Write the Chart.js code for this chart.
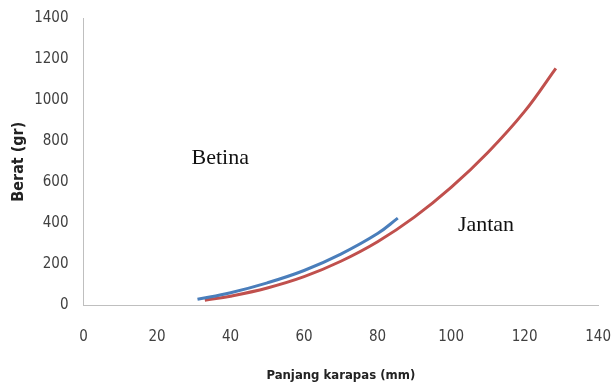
<!doctype html>
<html>
<head>
<meta charset="UTF-8"/>
<title>Berat vs Panjang karapas</title>
<script src="https://cdn.jsdelivr.net/npm/chart.js@4/dist/chart.umd.min.js"></script>
</head>
<body style="margin: 0; background: #fff;">
<div style="width: 613px; height: 390px;">
<canvas id="myChart" width="613" height="390"></canvas>
</div>
<script>
// values
var betinaLength = [31, 40, 50, 60, 70, 80, 85.5];
var betinaWeight = [30, 62, 110, 170, 250, 350, 425];
var jantanLength = [33, 40, 50, 60, 70, 80, 90, 100, 110, 120, 128.5];
var jantanWeight = [25, 45, 85, 140, 215, 310, 430, 575, 745, 945, 1155];

// text labels placed in data units
var notes = [
    {text: 'Betina', x: 37.2, y: 715},
    {text: 'Jantan', x: 109.5, y: 392}
];

var tickFont = "'DejaVu Sans Condensed', 'Liberation Sans Narrow', sans-serif";

function toPoints(xs, ys) {
    return xs.map((x, i) => ({x: x, y: ys[i]}));
}

var notePlugin = {
    id: 'notes',
    afterDatasetsDraw(chart) {
        var ctx = chart.ctx;
        ctx.save();
        ctx.font = "22px 'Liberation Serif', 'Times New Roman', serif";
        ctx.fillStyle = '#111';
        ctx.textAlign = 'center';
        ctx.textBaseline = 'middle';
        notes.forEach((n) => {
            ctx.fillText(n.text, chart.scales.x.getPixelForValue(n.x), chart.scales.y.getPixelForValue(n.y));
        });
        ctx.restore();
    }
};

var ctx = document.getElementById('myChart').getContext('2d');
var myChart = new Chart(ctx, {
    type: 'scatter',
    data: {
        datasets: [
            {
                label      : 'Betina',
                data       : toPoints(betinaLength, betinaWeight),
                showLine   : true,
                borderColor: '#4a7ebb',
                borderWidth: 3,
                pointRadius: 0,
                tension    : 0.4,
            },
            {
                label      : 'Jantan',
                data       : toPoints(jantanLength, jantanWeight),
                showLine   : true,
                borderColor: '#c0504d',
                borderWidth: 3,
                pointRadius: 0,
                tension    : 0.4,
            }
        ]
    },
    options: {
        responsive: false,
        animation: false,
        layout: {padding: {top: 18, right: 0, left: 9, bottom: 0}},
        plugins: {
            legend : {display: false},
            tooltip: {enabled: false}
        },
        scales: {
            x: {
                min: 0,
                max: 140,
                ticks: {stepSize: 20, color: '#404040', font: {family: tickFont, size: 15}, padding: 2, callback: (v) => String(v)},
                grid: {display: false, drawTicks: true, tickLength: 21},
                border: {color: '#bfbfbf', width: 1},
                title: {display: true, text: 'Panjang karapas (mm)', color: '#222', font: {family: tickFont, size: 13, weight: 'bold'}, padding: {top: 19, bottom: 7}}
            },
            y: {
                min: 0,
                max: 1400,
                ticks: {stepSize: 200, color: '#404040', font: {family: tickFont, size: 15}, padding: 2, callback: (v) => String(v)},
                grid: {display: false, drawTicks: true, tickLength: 13},
                border: {color: '#bfbfbf', width: 1},
                title: {display: true, text: 'Berat (gr)', color: '#222', font: {family: tickFont, size: 16, weight: 'bold'}, padding: {top: 0, bottom: 4}}
            }
        }
    },
    plugins: [notePlugin]
});
</script>
</body>
</html>
